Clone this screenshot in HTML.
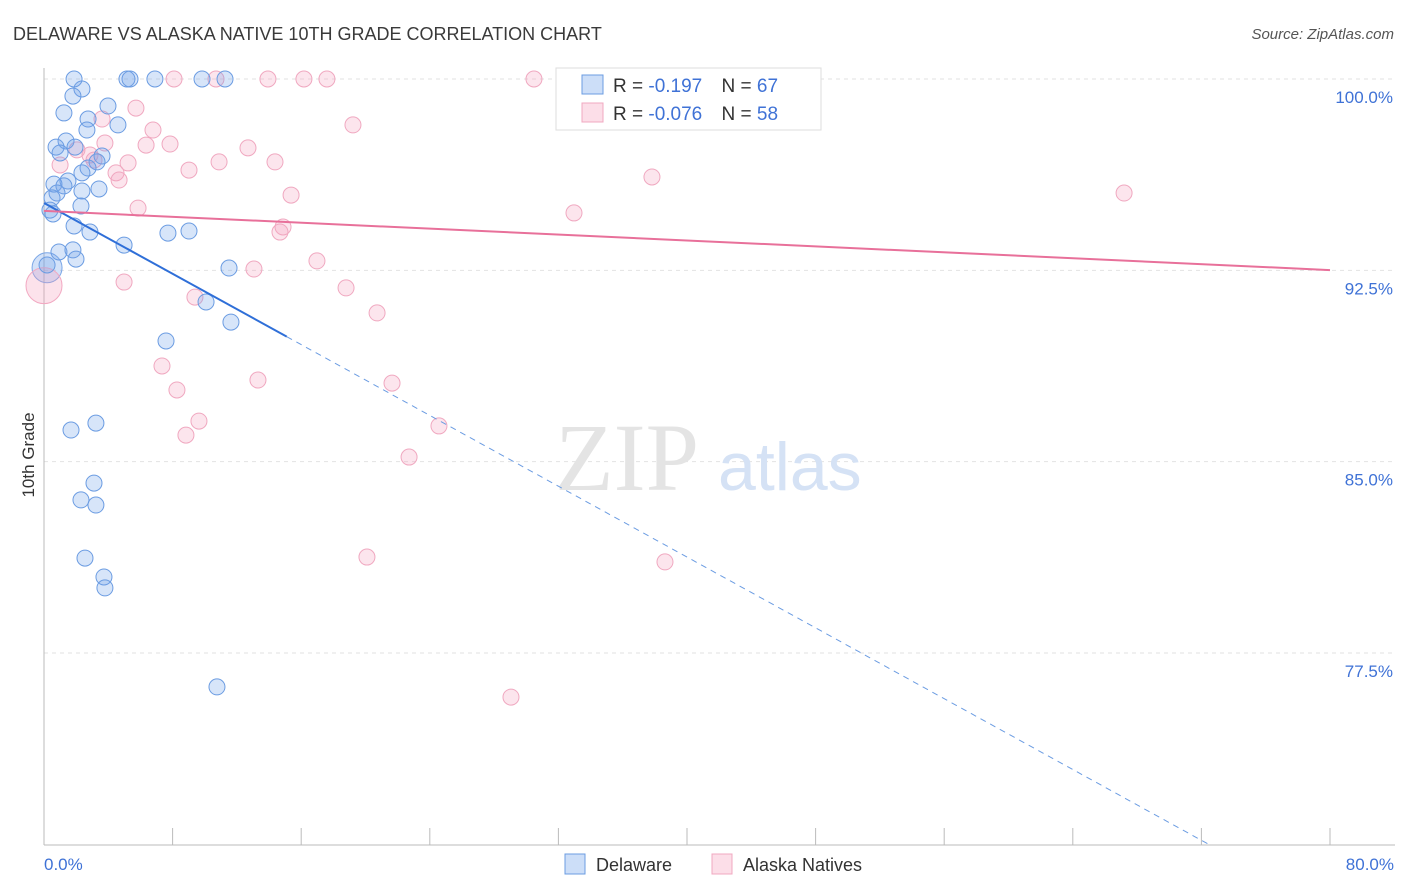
<!DOCTYPE html>
<html><head><meta charset="utf-8"><style>
body{margin:0;background:#fff;font-family:"Liberation Sans",sans-serif;}
#wrap{position:relative;width:1406px;height:892px;overflow:hidden;}
</style></head><body>
<div id="wrap">
<svg id="chart" width="1406" height="892"></svg>
</div>
<script>
const xTicks=[0,8,16,24,32,40,48,56,64,72,80];
const yTicks=[100,92.5,85,77.5];
const yTickLabels=["100.0%","92.5%","85.0%","77.5%"];
const blueX=[1.87,5.16,6.9,9.83,11.26,5.35,2.36,1.80,3.98,1.24,2.74,4.60,2.67,1.37,0.75,1.93,1.0,3.61,3.30,2.74,2.36,1.49,0.62,1.24,3.42,2.36,0.81,0.50,2.30,0.37,0.56,1.87,2.86,4.98,7.71,9.02,0.93,1.80,0.19,1.99,11.51,10.08,11.63,7.59,1.68,3.23,3.11,2.30,3.23,2.55,3.73,3.79,10.76];
const blueY=[100,100,100,100,100,100,99.61,99.33,98.94,98.67,98.43,98.2,98.0,97.57,97.33,97.33,97.1,96.98,96.75,96.51,96.32,96.0,95.88,95.81,95.69,95.61,95.53,95.34,95.02,94.86,94.71,94.24,94.0,93.49,93.96,94.04,93.22,93.3,92.71,92.94,92.59,91.26,90.47,89.73,86.24,86.51,84.16,83.5,83.3,81.22,80.48,80.05,76.17];
const pinkX=[8.09,10.7,13.93,16.17,17.6,30.48,41.62,44.73,5.72,6.78,19.22,3.61,6.35,7.84,12.69,2.86,2.05,3.79,5.23,3.11,10.89,14.37,9.02,4.48,4.67,1.0,37.82,67.19,15.37,5.85,32.97,14.87,14.68,16.98,13.06,4.98,18.79,9.39,20.72,7.34,21.65,13.31,8.27,9.64,8.83,24.57,22.71,20.09,38.63,29.05];
const pinkY=[100,100,100,100,100,100,100,100,98.86,98.0,98.2,98.43,97.41,97.45,97.3,97.02,97.22,97.49,96.71,96.82,96.75,96.75,96.43,96.32,96.04,96.63,96.16,95.53,95.45,94.94,94.75,94.2,94.0,92.87,92.55,92.04,91.81,91.45,90.83,88.75,88.08,88.2,87.81,86.59,86.04,86.4,85.18,81.26,81.07,75.77];
const blueTrend=[95.14,-0.347];
const pinkTrend=[94.83,-0.029];
const X0=44,X1=1330,Y0=79,PPY=25.51;
const sx=v=>X0+(X1-X0)*v/80;
const sy=v=>Y0+(100-v)*PPY;
const svg=document.getElementById('chart');
const NS='http://www.w3.org/2000/svg';
function mk(t,a,txt){const e=document.createElementNS(NS,t);for(const k in a)e.setAttribute(k,a[k]);if(txt!==undefined)e.textContent=txt;svg.appendChild(e);return e;}
// gridlines
yTicks.forEach((v,i)=>{
 const g=mk('line',{x1:X0,x2:1395,y1:sy(v),y2:sy(v),stroke:'#e2e2e2','stroke-dasharray':'4,4'});
 
 
 const t=mk('text',{x:1393,y:sy(v)+24,'text-anchor':'end','font-size':'17',fill:'#3f72d6'},yTickLabels[i]);
 
 
});
const ax=mk('line',{x1:X0,x2:X0,y1:68,y2:845,stroke:'#bbb'});


const bx=mk('line',{x1:X0,x2:1395,y1:845,y2:845,stroke:'#bbb'});


xTicks.forEach(v=>{
 const l=mk('line',{x1:sx(v),x2:sx(v),y1:828,y2:845,stroke:'#bbb'});
 
 
});
// watermark
const wm=mk('text',{x:555,y:490,'font-size':'96','font-family':'Liberation Serif,serif',fill:'#e4e4e4'},'ZIP');


const wm2=mk('text',{x:718,y:490,'font-size':'68',fill:'#d5e2f5'},'atlas');


// big circles
const bb=mk('circle',{cx:sx(0.19),cy:sy(92.6),r:15,fill:'rgba(110,160,235,0.3)',stroke:'#7aa6e6'});


const pb=mk('circle',{cx:sx(0),cy:sy(91.9),r:18,fill:'rgba(245,160,190,0.3)',stroke:'#f2a9c2'});


pinkX.forEach((x,i)=>{
 const c=mk('circle',{cx:sx(x),cy:sy(pinkY[i]),r:8,fill:'rgba(245,160,190,0.28)',stroke:'#f0a8c0','stroke-width':1});
 
 
});
blueX.forEach((x,i)=>{
 const c=mk('circle',{cx:sx(x),cy:sy(blueY[i]),r:8,fill:'rgba(110,160,235,0.28)',stroke:'#6b9ce2','stroke-width':1});
 
 
});
// trends
const bxEnd=(70-blueTrend[0])/blueTrend[1];
const t1=mk('line',{x1:sx(0),y1:sy(blueTrend[0]),x2:sx(15.1),y2:sy(blueTrend[0]+blueTrend[1]*15.1),stroke:'#2f6fd8','stroke-width':2});


const t2=mk('line',{x1:sx(15.1),y1:sy(blueTrend[0]+blueTrend[1]*15.1),x2:sx(bxEnd),y2:sy(70),stroke:'#6b9ce2','stroke-width':1,'stroke-dasharray':'6,5'});


const t3=mk('line',{x1:sx(0),y1:sy(pinkTrend[0]),x2:sx(80),y2:sy(pinkTrend[0]+pinkTrend[1]*80),stroke:'#e8709a','stroke-width':2});


// texts
function txt(name,a,s){const t=mk('text',a,s);return t;}
txt('chart-title',{x:13,y:40,'font-size':'18',fill:'#3a3a3a'},'DELAWARE VS ALASKA NATIVE 10TH GRADE CORRELATION CHART');
txt('source-label',{x:1394,y:39,'font-size':'15','text-anchor':'end','font-style':'italic',fill:'#555'},'Source: ZipAtlas.com');
txt('x-min-label',{x:44,y:870,'font-size':'17',fill:'#3f72d6'},'0.0%');
txt('x-max-label',{x:1394,y:870,'font-size':'17','text-anchor':'end',fill:'#3f72d6'},'80.0%');
const yt=txt('y-axis-title',{x:0,y:0,'font-size':'17',fill:'#333','text-anchor':'middle',transform:'translate(34,455) rotate(-90)'},'10th Grade');
// legend box
const lb=mk('rect',{x:556,y:68,width:265,height:62,fill:'#fff',stroke:'#ddd'});


const s1=mk('rect',{x:582,y:75,width:21,height:19,fill:'rgba(110,160,235,0.35)',stroke:'#6b9ce2'});


const s2=mk('rect',{x:582,y:103,width:21,height:19,fill:'rgba(245,160,190,0.35)',stroke:'#f0a8c0'});


const r1=txt('legend-stats-delaware',{x:613,y:92,'font-size':'19',fill:'#333'},'');
r1.innerHTML='R = <tspan fill="#3f72d6"> -0.197</tspan>   <tspan dx="14">N = </tspan><tspan fill="#3f72d6">67</tspan>';
const r2=txt('legend-stats-alaska',{x:613,y:120,'font-size':'19',fill:'#333'},'');
r2.innerHTML='R = <tspan fill="#3f72d6">-0.076</tspan>   <tspan dx="14">N = </tspan><tspan fill="#3f72d6">58</tspan>';
// bottom legend
const b1=mk('rect',{x:565,y:854,width:20,height:20,fill:'rgba(110,160,235,0.35)',stroke:'#6b9ce2'});


txt('legend-label-delaware',{x:596,y:871,'font-size':'18',fill:'#333'},'Delaware');
const b2=mk('rect',{x:712,y:854,width:20,height:20,fill:'rgba(245,160,190,0.35)',stroke:'#f0a8c0'});


txt('legend-label-alaska-natives',{x:743,y:871,'font-size':'18',fill:'#333'},'Alaska Natives');
</script>
</body></html>
